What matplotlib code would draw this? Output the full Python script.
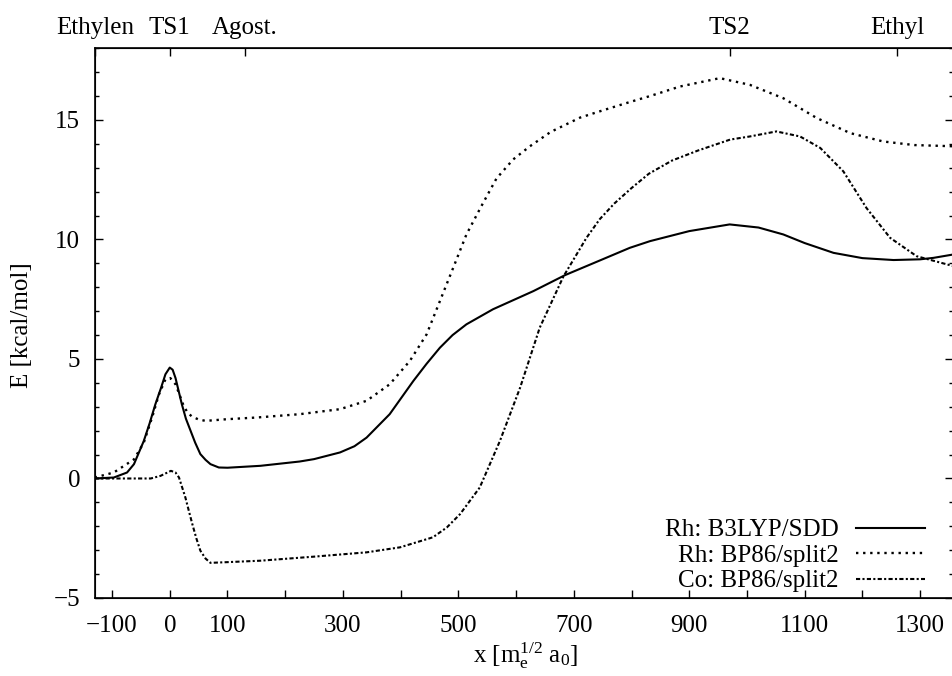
import matplotlib
matplotlib.use("Agg")
import matplotlib.pyplot as plt
from matplotlib.ticker import FixedLocator, MultipleLocator

# Energieprofile entlang der Reaktionskoordinate
x_b3lyp = [-130, -97, -74, -62, -45, -35, -25, -15, -7.5, 0, 5, 10, 15, 21, 28, 36, 44, 53, 62,
           70.5, 85, 100, 157, 225, 250, 295, 320, 341, 381, 422, 445, 468, 490, 514, 560, 630,
           685, 745, 797, 832, 900, 970, 1020, 1063, 1100, 1150, 1200, 1254, 1300, 1323, 1357]
e_b3lyp = [0.0, 0.04, 0.25, 0.6, 1.57, 2.3, 3.1, 3.8, 4.36, 4.64, 4.55, 4.2, 3.7, 3.1, 2.5, 2.0,
           1.5, 1.02, 0.78, 0.6, 0.46, 0.45, 0.53, 0.71, 0.81, 1.09, 1.35, 1.71, 2.69, 4.08, 4.8,
           5.47, 6.0, 6.45, 7.08, 7.84, 8.51, 9.12, 9.65, 9.93, 10.35, 10.63, 10.5, 10.21, 9.85,
           9.44, 9.22, 9.14, 9.17, 9.23, 9.37]

x_bp86_rh = [-130, -97, -62, -45, -30, -19, -7.5, 1, 10, 17, 24, 31, 39, 50, 62, 99, 150, 225,
             295, 341, 381, 416, 445, 468, 491, 514, 540, 566, 595, 624, 660, 711, 750, 797, 832,
             884, 953, 1005, 1063, 1121, 1179, 1236, 1290, 1357]
e_bp86_rh = [0.04, 0.25, 0.8, 1.5, 2.6, 3.5, 4.15, 4.2, 3.94, 3.5, 3.04, 2.75, 2.58, 2.47, 2.41,
             2.48, 2.55, 2.69, 2.9, 3.25, 3.94, 4.92, 6.03, 7.42, 8.81, 10.21, 11.4, 12.55, 13.35,
             13.9, 14.5, 15.1, 15.4, 15.75, 16.0, 16.4, 16.75, 16.47, 15.91, 15.08, 14.45,
             14.1, 13.95, 13.9]

x_bp86_co = [-130, -33, -16, 2, 10, 16, 27, 33, 39, 46, 53, 62, 70.5, 100, 157, 250, 341, 399,
             456, 480, 503, 537, 572, 607, 641, 682, 722, 745, 770, 800, 830, 870, 915, 971, 1005,
             1051, 1092, 1127, 1167, 1207, 1248, 1294, 1357]
e_bp86_co = [0.0, 0.0, 0.11, 0.32, 0.25, 0.04, -0.79, -1.35, -1.9, -2.5, -3.02, -3.35, -3.53,
             -3.5, -3.44, -3.27, -3.09, -2.88, -2.46, -2.05, -1.49, -0.38, 1.57, 3.8, 6.31, 8.45,
             10.07, 10.85, 11.5, 12.15, 12.75, 13.3, 13.72, 14.18, 14.31, 14.52, 14.31, 13.83,
             12.85, 11.32, 10.07, 9.3, 8.89]

labels = ["Rh: B3LYP/SDD", "Rh: BP86/split2", "Co: BP86/split2"]

x_ticks = [-100, 0, 100, 200, 300, 400, 500, 600, 700, 800, 900, 1000, 1100, 1200, 1300]
x_ticklabels = ["\u2212100", "0", "100", "", "300", "", "500", "", "700", "", "900", "",
                "1100", "", "1300"]
top_pos = [-130, 0, 130, 970, 1260]
top_names = ["Ethylen", "TS1", "Agost.", "TS2", "Ethyl"]

plt.rcParams["font.family"] = ["Liberation Serif", "DejaVu Serif"]
plt.rcParams["mathtext.fontset"] = "custom"
plt.rcParams["mathtext.rm"] = "Liberation Serif"
plt.rcParams["mathtext.default"] = "regular"
fs = 18

fig = plt.figure(figsize=(9.53, 6.76), dpi=100)
ax = fig.add_axes([0.0994, 0.1154, 0.9006, 0.8132])

ax.plot(x_b3lyp, e_b3lyp, color="black", lw=1.5, label=labels[0])
ax.plot(x_bp86_rh, e_bp86_rh, color="black", lw=1.7, ls=(0, (1, 2.0)), label=labels[1])
ax.plot(x_bp86_co, e_bp86_co, color="black", lw=1.5, ls=(0, (2, 1.1, 1, 1.1)), label=labels[2])

ax.set_xlim(-130, 1357)
ax.set_ylim(-5, 18)

ax.xaxis.set_major_locator(FixedLocator(x_ticks))
ax.set_xticklabels(x_ticklabels)
ax.yaxis.set_major_locator(FixedLocator([-5, 0, 5, 10, 15]))
ax.yaxis.set_minor_locator(MultipleLocator(1))
ax.tick_params(axis="x", which="both", direction="in", top=False, bottom=True,
               length=5.8, width=1, labelsize=fs, pad=12.5)
ax.tick_params(axis="y", which="major", direction="in", left=True, right=True,
               length=5.8, width=1, labelsize=fs, pad=10.5)
ax.tick_params(axis="y", which="minor", direction="in", left=True, right=True,
               length=2.9, width=1)
for s in ax.spines.values():
    s.set_linewidth(1.2)

# obere Achse mit den Stationaerpunkten
ax2 = ax.twiny()
ax2.set_xlim(ax.get_xlim())
ax2.set_xticks(top_pos)
ax2.set_xticklabels(top_names)
ax2.tick_params(axis="x", direction="in", length=5.8, width=1, labelsize=fs, pad=7.0)

fig.text(22 / 953, 1 - 325 / 676, "E [kcal/mol]", rotation=90, ha="center", va="center",
         fontsize=fs)
fig.text(526 / 953, 1 - 663 / 676, r"x [m$_{e}^{1/2}$ a$_{0}$]", ha="center", va="baseline",
         fontsize=fs)

ax.legend(loc="center right", bbox_to_anchor=(925 / 953, 1 - 555.5 / 676),
          bbox_transform=fig.transFigure, frameon=False, markerfirst=False, fontsize=fs,
          handlelength=2.75, handletextpad=0.7, labelspacing=0.12, borderpad=0,
          borderaxespad=0)

fig.savefig("out.png", dpi=100)
